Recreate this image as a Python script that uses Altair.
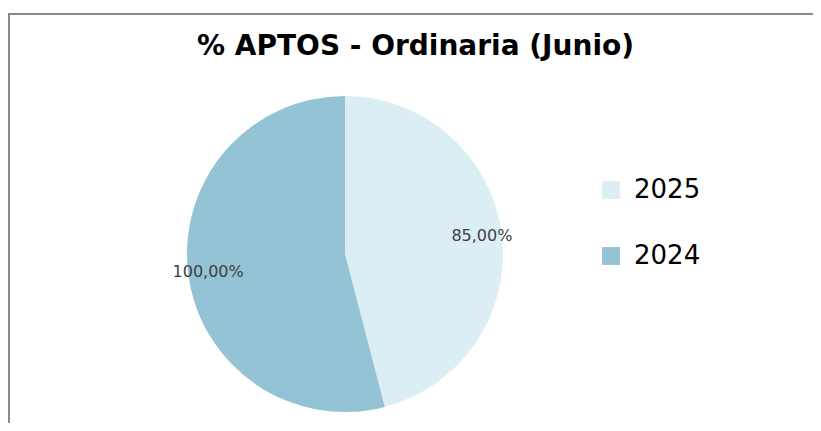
import altair as alt
import pandas as pd

years = ["2025", "2024"]
values = [85.0, 100.0]
labels = ["85,00%", "100,00%"]
colors = ["#DBEEF4", "#93C3D5"]
title_text = "% APTOS - Ordinaria (Junio)"

df = pd.DataFrame({"year": years, "value": values, "label": labels, "order": [0, 1]})

W, H = 805, 415
cx, cy = 337, 246

base = alt.Chart(df).encode(
    theta=alt.Theta("value:Q", stack=True),
    order=alt.Order("order:Q"),
)

arcs = base.mark_arc(radius=158, stroke=None).encode(
    x=alt.value(cx), y=alt.value(cy),
    color=alt.Color("year:N", sort=years,
                    scale=alt.Scale(domain=years, range=colors),
                    legend=alt.Legend(title=None, orient="none", legendX=590, legendY=169,
                                      symbolType="square", symbolSize=320, symbolStrokeWidth=0,
                                      labelFontSize=26, labelFont="DejaVu Sans", labelColor="#000000",
                                      rowPadding=40, labelOffset=10)),
)

texts = base.mark_text(radius=138, font="DejaVu Sans", fontSize=16, color="#404040").encode(
    x=alt.value(cx), y=alt.value(cy), text="label:N"
)

frame_top = alt.Chart(df).mark_rule(color="#8a8a8a", strokeWidth=2).encode(
    x=alt.value(0), x2=alt.value(W), y=alt.value(6)
)
frame_left = alt.Chart(df).mark_rule(color="#8a8a8a", strokeWidth=2).encode(
    x=alt.value(1), y=alt.value(6), y2=alt.value(H)
)

chart = alt.layer(frame_top, frame_left, arcs, texts).properties(
    width=W, height=H,
    autosize=alt.AutoSizeParams(type="none"),
    padding={"left": 0, "right": 0, "top": 0, "bottom": 0},
    title=alt.TitleParams(title_text, font="DejaVu Sans", fontSize=28,
                          fontWeight="bold", color="#000000", anchor="middle",
                          baseline="alphabetic", offset=0, dy=75, dx=5),
).configure_view(stroke=None)

chart.save("out.html", embed_options={"renderer": "svg", "actions": False})
